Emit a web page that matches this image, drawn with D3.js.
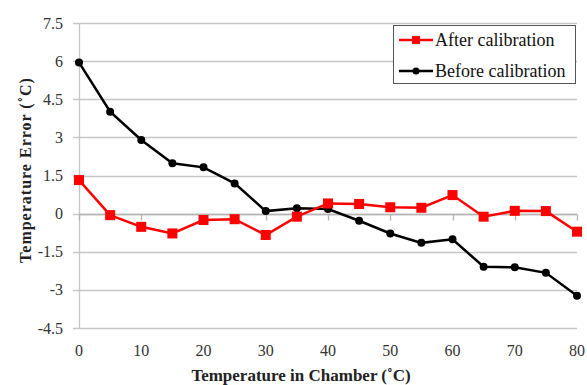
<!DOCTYPE html>
<html>
<head>
<meta charset="utf-8">
<script src="https://cdn.jsdelivr.net/npm/d3@7"></script>
<style>
  body { margin: 0; background: #fff; }
</style>
</head>
<body>
<div class="chart"></div>
<script>
var temps = [0, 5, 10, 15, 20, 25, 30, 35, 40, 45, 50, 55, 60, 65, 70, 75, 80]
var after = [1.32, -0.06, -0.52, -0.78, -0.25, -0.22, -0.84, -0.12, 0.40, 0.38, 0.25, 0.23, 0.73, -0.12, 0.11, 0.10, -0.71]
var before = [5.95, 4.01, 2.90, 1.98, 1.82, 1.19, 0.10, 0.21, 0.18, -0.28, -0.78, -1.15, -1.01, -2.09, -2.11, -2.33, -3.23]
var yTicks = [-4.5, -3, -1.5, 0, 1.5, 3, 4.5, 6, 7.5]
var xTicks = [0, 10, 20, 30, 40, 50, 60, 70, 80]

var serif = "'Liberation Serif', 'Times New Roman', serif"

var svg = d3.select(".chart")
    .append("svg")
    .attr("width", 587)
    .attr("height", 385)

var x = d3.scaleLinear().domain([0, 80]).range([79, 577])
var y = d3.scaleLinear().domain([-4.5, 7.5]).range([328, 23])

// grid lines
svg.selectAll(".grid")
    .data(yTicks)
    .enter().append("line")
    .attr("x1", 73)
    .attr("x2", 577)
    .attr("y1", d => Math.round(y(d)) + 0.5)
    .attr("y2", d => Math.round(y(d)) + 0.5)
    .style("stroke", "#c6c6c6")
    .style("stroke-width", 1.3)

// left axis
svg.append("line")
    .attr("x1", 79.5).attr("x2", 79.5)
    .attr("y1", y(7.5)).attr("y2", y(-4.5))
    .style("stroke", "#c6c6c6")
    .style("stroke-width", 1.3)

// x axis at zero with ticks
var zeroY = Math.round(y(0)) + 0.5
svg.append("line")
    .attr("x1", 79).attr("x2", 577)
    .attr("y1", zeroY).attr("y2", zeroY)
    .style("stroke", "#b4b4b4")
    .style("stroke-width", 1.3)
svg.selectAll(".xtick")
    .data(xTicks)
    .enter().append("line")
    .attr("x1", d => Math.round(x(d)) + 0.5)
    .attr("x2", d => Math.round(x(d)) + 0.5)
    .attr("y1", zeroY).attr("y2", zeroY + 6)
    .style("stroke", "#b4b4b4")
    .style("stroke-width", 1.3)

// tick labels
svg.selectAll(".ylab")
    .data(yTicks)
    .enter().append("text")
    .attr("x", 63)
    .attr("y", d => y(d) + 5.5)
    .attr("text-anchor", "end")
    .attr("font-family", serif)
    .style("font-size", "16px")
    .attr("fill", "#333")
    .text(d => d)

svg.selectAll(".xlab")
    .data(xTicks)
    .enter().append("text")
    .attr("x", d => x(d))
    .attr("y", 356)
    .attr("text-anchor", "middle")
    .attr("font-family", serif)
    .style("font-size", "16px")
    .attr("fill", "#333")
    .text(d => d)

// axis titles
svg.append("text")
    .attr("x", 301)
    .attr("y", 381)
    .attr("text-anchor", "middle")
    .attr("font-family", serif)
    .style("font-size", "17px")
    .style("font-weight", "bold")
    .attr("fill", "#222")
    .text("Temperature in Chamber (˚C)")

svg.append("text")
    .attr("transform", "translate(31,170) rotate(-90)")
    .attr("text-anchor", "middle")
    .attr("font-family", serif)
    .style("font-size", "16px")
    .style("font-weight", "bold")
    .style("letter-spacing", "1px")
    .attr("fill", "#222")
    .text("Temperature Error  (˚C)")

// lines
var line = d3.line().x((d, i) => x(temps[i])).y(d => y(d))

svg.append("path")
    .datum(before)
    .attr("d", line)
    .attr("fill", "none")
    .style("stroke", "#000")
    .style("stroke-width", 2.5)

svg.append("path")
    .datum(after)
    .attr("d", line)
    .attr("fill", "none")
    .style("stroke", "#ff0000")
    .style("stroke-width", 2.5)

svg.selectAll(".bdot")
    .data(before)
    .enter().append("circle")
    .attr("cx", (d, i) => x(temps[i]))
    .attr("cy", d => y(d))
    .attr("r", 4)
    .style("fill", "#000")

svg.selectAll(".adot")
    .data(after)
    .enter().append("rect")
    .attr("x", (d, i) => x(temps[i]) - 5)
    .attr("y", d => y(d) - 5)
    .attr("width", 10)
    .attr("height", 10)
    .style("fill", "#ff0000")

// legend
svg.append("rect")
    .attr("x", 393.5).attr("y", 25.5)
    .attr("width", 182).attr("height", 58)
    .attr("fill", "#fff")
    .style("stroke", "#555")
    .style("stroke-width", 1)

svg.append("line")
    .attr("x1", 399).attr("x2", 433).attr("y1", 40).attr("y2", 40)
    .style("stroke", "#ff0000").style("stroke-width", 2.5)
svg.append("rect")
    .attr("x", 412).attr("y", 36).attr("width", 8).attr("height", 8)
    .style("fill", "#ff0000")
svg.append("text")
    .attr("x", 435).attr("y", 46)
    .attr("font-family", serif)
    .style("font-size", "18px")
    .attr("fill", "#111")
    .text("After calibration")

svg.append("line")
    .attr("x1", 399).attr("x2", 433).attr("y1", 71).attr("y2", 71)
    .style("stroke", "#000").style("stroke-width", 2.5)
svg.append("circle")
    .attr("cx", 416).attr("cy", 71).attr("r", 3.5)
    .style("fill", "#000")
svg.append("text")
    .attr("x", 435).attr("y", 77)
    .attr("font-family", serif)
    .style("font-size", "18px")
    .attr("fill", "#111")
    .text("Before calibration")
</script>
</body>
</html>
